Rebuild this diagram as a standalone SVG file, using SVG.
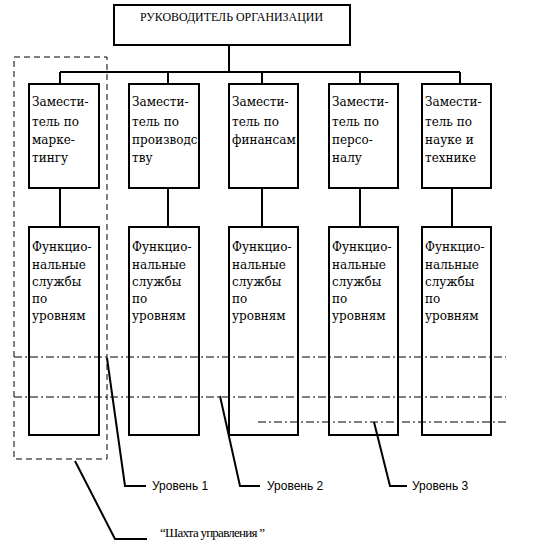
<svg xmlns="http://www.w3.org/2000/svg" width="534" height="544" viewBox="0 0 534 544">
<style>
.box{fill:#fff;stroke:#000;stroke-width:2}
.ln{fill:none;stroke:#000;stroke-width:2}
.lead{fill:none;stroke:#000;stroke-width:2}
.dash{fill:none;stroke:#000;stroke-width:1;stroke-dasharray:8,3,2,3}
.shaft{fill:none;stroke:#000;stroke-width:1;stroke-dasharray:6,4}
.t{font-family:'DejaVu Serif','Liberation Serif',serif;font-size:12px;fill:#000}
.h{font-family:'Liberation Serif','DejaVu Serif',serif;font-size:13px;fill:#000}
.s{font-family:'Liberation Sans',Arial,sans-serif;font-size:12px;fill:#000}
</style>
<rect width="534" height="544" fill="#fff"/>
<g id="connectors">
<path class="ln" d="M229 45V72M60 72H460M60 72V84M168 72V84M262 72V84M360 72V84M460 72V84"/>
<path class="ln" d="M60 188V227M168 188V227M262 188V227M360 188V227M452 188V227"/>
</g>
<g id="head"><rect class="box" x="114" y="5" width="236" height="40"/><text class="h" x="140" y="21" textLength="183" lengthAdjust="spacingAndGlyphs">РУКОВОДИТЕЛЬ ОРГАНИЗАЦИИ</text></g>
<g id="d1"><rect class="box" x="29" y="84" width="70" height="104"/><text class="t"><tspan x="32" y="106">Замести-</tspan><tspan x="32" y="126">тель по</tspan><tspan x="32" y="144">марке-</tspan><tspan x="32" y="162">тингу</tspan></text></g>
<g id="d2"><rect class="box" x="129" y="84" width="70" height="104"/><text class="t"><tspan x="132" y="106">Замести-</tspan><tspan x="132" y="126">тель по</tspan><tspan x="132" y="144">производс</tspan><tspan x="132" y="162">тву</tspan></text></g>
<g id="d3"><rect class="box" x="229" y="84" width="69" height="104"/><text class="t"><tspan x="232" y="106">Замести-</tspan><tspan x="232" y="126">тель по</tspan><tspan x="232" y="144">финансам</tspan></text></g>
<g id="d4"><rect class="box" x="329" y="84" width="69" height="104"/><text class="t"><tspan x="332" y="106">Замести-</tspan><tspan x="332" y="126">тель по</tspan><tspan x="332" y="144">персо-</tspan><tspan x="332" y="162">налу</tspan></text></g>
<g id="d5"><rect class="box" x="422" y="84" width="69" height="104"/><text class="t"><tspan x="425" y="106">Замести-</tspan><tspan x="425" y="126">тель по</tspan><tspan x="425" y="144">науке и</tspan><tspan x="425" y="162">технике</tspan></text></g>
<g id="f1"><rect class="box" x="29" y="227" width="70" height="208"/><text class="t"><tspan x="32" y="251">Функцио-</tspan><tspan x="32" y="269">нальные</tspan><tspan x="32" y="286">службы</tspan><tspan x="32" y="303">по</tspan><tspan x="32" y="320">уровням</tspan></text></g>
<g id="f2"><rect class="box" x="129" y="227" width="70" height="208"/><text class="t"><tspan x="132" y="251">Функцио-</tspan><tspan x="132" y="269">нальные</tspan><tspan x="132" y="286">службы</tspan><tspan x="132" y="303">по</tspan><tspan x="132" y="320">уровням</tspan></text></g>
<g id="f3"><rect class="box" x="229" y="227" width="69" height="208"/><text class="t"><tspan x="232" y="251">Функцио-</tspan><tspan x="232" y="269">нальные</tspan><tspan x="232" y="286">службы</tspan><tspan x="232" y="303">по</tspan><tspan x="232" y="320">уровням</tspan></text></g>
<g id="f4"><rect class="box" x="329" y="227" width="69" height="208"/><text class="t"><tspan x="332" y="251">Функцио-</tspan><tspan x="332" y="269">нальные</tspan><tspan x="332" y="286">службы</tspan><tspan x="332" y="303">по</tspan><tspan x="332" y="320">уровням</tspan></text></g>
<g id="f5"><rect class="box" x="422" y="227" width="69" height="208"/><text class="t"><tspan x="425" y="251">Функцио-</tspan><tspan x="425" y="269">нальные</tspan><tspan x="425" y="286">службы</tspan><tspan x="425" y="303">по</tspan><tspan x="425" y="320">уровням</tspan></text></g>
<g id="levels">
<path class="dash" d="M14 357H506M14 397H506M258 422H506"/>
<rect class="shaft" x="14" y="57" width="93" height="402"/>
</g>
<g id="leaders">
<path class="lead" d="M107 358L125 486H146"/>
<path class="lead" d="M220 396L240 486H260"/>
<path class="lead" d="M374 422L390 486H407"/>
<path class="lead" d="M75 461L115 539H147"/>
<text class="s" x="152" y="490">Уровень 1</text>
<text class="s" x="267" y="490">Уровень 2</text>
<text class="s" x="412" y="490">Уровень 3</text>
<text class="h" x="160" y="537" textLength="105">“Шахта управления ”</text>
</g>
</svg>
